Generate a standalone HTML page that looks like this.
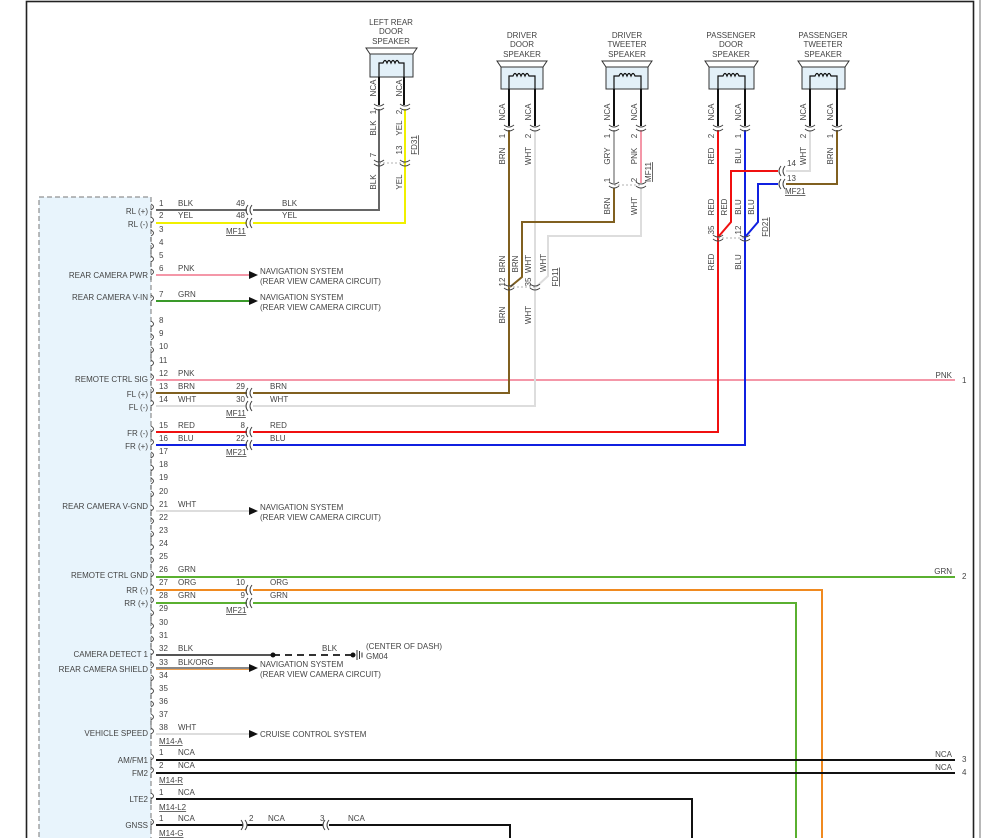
<!DOCTYPE html>
<html><head><meta charset="utf-8"><style>
html,body{margin:0;padding:0;background:#fff;}
svg{display:block;font-family:"Liberation Sans",sans-serif;}
text{font-size:8px;fill:#444;}
.u{text-decoration:underline;}
</style></head><body>
<svg width="981" height="838" viewBox="0 0 981 838" xmlns="http://www.w3.org/2000/svg">
<defs>
<path id="pa" d="M-1,-6 q5,3 0,6 M-1,1 v4" fill="none" stroke="#444" stroke-width="0.9"/>
<g id="ic" fill="none" stroke="#444" stroke-width="1"><path d="M-1,-5 q-4,5 0,10"/><path d="M3,-5 q-4,5 0,10"/></g>
<g id="icr" fill="none" stroke="#444" stroke-width="1"><path d="M-3,-5 q4,5 0,10"/><path d="M1,-5 q4,5 0,10"/></g>
<g id="vc" fill="none" stroke="#444" stroke-width="1"><path d="M-5,-3 q5,4 10,0"/><path d="M-5,1 q5,4 10,0"/></g>
</defs>

<!-- frame -->
<rect x="26.5" y="1.5" width="947" height="850" fill="none" stroke="#222" stroke-width="1.6"/>
<line x1="980" y1="0" x2="980" y2="838" stroke="#888" stroke-width="1.2"/>

<!-- module -->
<rect x="39" y="197" width="112" height="660" fill="#e8f4fc" stroke="#777" stroke-dasharray="5,3"/>
<g>
<use href="#pa" x="152" y="210"/><use href="#pa" x="152" y="223"/><use href="#pa" x="152" y="236"/><use href="#pa" x="152" y="249"/><use href="#pa" x="152" y="262"/><use href="#pa" x="152" y="275"/><use href="#pa" x="152" y="301"/><use href="#pa" x="152" y="327"/><use href="#pa" x="152" y="340"/><use href="#pa" x="152" y="353"/><use href="#pa" x="152" y="366"/><use href="#pa" x="152" y="380"/><use href="#pa" x="152" y="393"/><use href="#pa" x="152" y="406"/><use href="#pa" x="152" y="432"/><use href="#pa" x="152" y="445"/><use href="#pa" x="152" y="458"/><use href="#pa" x="152" y="471"/><use href="#pa" x="152" y="484"/><use href="#pa" x="152" y="497"/><use href="#pa" x="152" y="511"/><use href="#pa" x="152" y="524"/><use href="#pa" x="152" y="537"/><use href="#pa" x="152" y="550"/><use href="#pa" x="152" y="563"/><use href="#pa" x="152" y="577"/><use href="#pa" x="152" y="590"/><use href="#pa" x="152" y="603"/><use href="#pa" x="152" y="616"/><use href="#pa" x="152" y="629"/><use href="#pa" x="152" y="642"/><use href="#pa" x="152" y="655"/><use href="#pa" x="152" y="668"/><use href="#pa" x="152" y="681"/><use href="#pa" x="152" y="694"/><use href="#pa" x="152" y="707"/><use href="#pa" x="152" y="720"/><use href="#pa" x="152" y="734"/><use href="#pa" x="152" y="760"/><use href="#pa" x="152" y="773"/><use href="#pa" x="152" y="799"/><use href="#pa" x="152" y="825"/>
</g>

<!-- module pin labels -->
<g text-anchor="end">
<text x="148" y="214">RL (+)</text><text x="148" y="227">RL (-)</text>
<text x="148" y="278">REAR CAMERA PWR</text><text x="148" y="300">REAR CAMERA V-IN</text>
<text x="148" y="382">REMOTE CTRL SIG</text><text x="148" y="397">FL (+)</text><text x="148" y="410">FL (-)</text>
<text x="148" y="436">FR (-)</text><text x="148" y="449">FR (+)</text>
<text x="148" y="509">REAR CAMERA V-GND</text>
<text x="148" y="578">REMOTE CTRL GND</text><text x="148" y="593">RR (-)</text><text x="148" y="606">RR (+)</text>
<text x="148" y="657">CAMERA DETECT 1</text><text x="148" y="672">REAR CAMERA SHIELD</text>
<text x="148" y="736">VEHICLE SPEED</text>
<text x="148" y="763">AM/FM1</text><text x="148" y="776">FM2</text><text x="148" y="802">LTE2</text><text x="148" y="828">GNSS</text>
</g>
<!-- pin numbers -->
<g>
<text x="159" y="206">1</text><text x="159" y="218">2</text><text x="159" y="232">3</text><text x="159" y="245">4</text><text x="159" y="258">5</text><text x="159" y="271">6</text><text x="159" y="297">7</text><text x="159" y="323">8</text><text x="159" y="336">9</text><text x="159" y="349">10</text><text x="159" y="363">11</text><text x="159" y="376">12</text><text x="159" y="389">13</text><text x="159" y="402">14</text><text x="159" y="428">15</text><text x="159" y="441">16</text><text x="159" y="454">17</text><text x="159" y="467">18</text><text x="159" y="480">19</text><text x="159" y="494">20</text><text x="159" y="507">21</text><text x="159" y="520">22</text><text x="159" y="533">23</text><text x="159" y="546">24</text><text x="159" y="559">25</text><text x="159" y="572">26</text><text x="159" y="585">27</text><text x="159" y="598">28</text><text x="159" y="611">29</text><text x="159" y="625">30</text><text x="159" y="638">31</text><text x="159" y="651">32</text><text x="159" y="665">33</text><text x="159" y="678">34</text><text x="159" y="691">35</text><text x="159" y="704">36</text><text x="159" y="717">37</text><text x="159" y="730">38</text>
<text x="159" y="744" class="u">M14-A</text>
<text x="159" y="755">1</text><text x="159" y="768">2</text>
<text x="159" y="783" class="u">M14-R</text>
<text x="159" y="795">1</text>
<text x="159" y="810" class="u">M14-L2</text>
<text x="159" y="821">1</text>
<text x="159" y="836" class="u">M14-G</text>
</g>
<g>
<text x="178" y="206">BLK</text><text x="178" y="218">YEL</text><text x="178" y="271">PNK</text><text x="178" y="297">GRN</text>
<text x="178" y="376">PNK</text><text x="178" y="389">BRN</text><text x="178" y="402">WHT</text><text x="178" y="428">RED</text><text x="178" y="441">BLU</text>
<text x="178" y="507">WHT</text><text x="178" y="572">GRN</text><text x="178" y="585">ORG</text><text x="178" y="598">GRN</text>
<text x="178" y="651">BLK</text><text x="178" y="665">BLK/ORG</text><text x="178" y="730">WHT</text>
<text x="178" y="755">NCA</text><text x="178" y="768">NCA</text><text x="178" y="795">NCA</text><text x="178" y="821">NCA</text>
<text x="282" y="206">BLK</text><text x="282" y="218">YEL</text>
<text x="270" y="389">BRN</text><text x="270" y="402">WHT</text><text x="270" y="428">RED</text><text x="270" y="441">BLU</text>
<text x="270" y="585">ORG</text><text x="270" y="598">GRN</text>
<text x="322" y="651">BLK</text>
<text x="268" y="821">NCA</text><text x="348" y="821">NCA</text>
<text x="249" y="821">2</text><text x="320" y="821">3</text>
</g>
<g text-anchor="end">
<text x="245" y="206">49</text><text x="245" y="218">48</text>
<text x="245" y="389">29</text><text x="245" y="402">30</text>
<text x="245" y="428">8</text><text x="245" y="441">22</text>
<text x="245" y="585">10</text><text x="245" y="598">9</text>
<text x="952" y="378">PNK</text><text x="952" y="574">GRN</text><text x="952" y="757">NCA</text><text x="952" y="770">NCA</text>
</g>
<text x="962" y="383">1</text><text x="962" y="579">2</text><text x="962" y="762">3</text><text x="962" y="775">4</text>
<text x="226" y="234" class="u">MF11</text><text x="226" y="416" class="u">MF11</text><text x="226" y="455" class="u">MF21</text><text x="226" y="613" class="u">MF21</text>

<!-- horizontal wires -->
<g fill="none" stroke-width="2">
<polyline points="156,210 247,210" stroke="#666"/><polyline points="253,210 379,210 379,109" stroke="#666"/>
<polyline points="156,223 247,223" stroke="#f0f000"/><polyline points="253,223 405,223 405,109" stroke="#f0f000"/>
<line x1="156" y1="275" x2="250" y2="275" stroke="#f497a8"/>
<line x1="156" y1="301" x2="250" y2="301" stroke="#3a9a2a"/>
<line x1="156" y1="380" x2="955" y2="380" stroke="#f497a8"/>
<polyline points="156,393 247,393" stroke="#806020"/><polyline points="253,393 509,393 509,130" stroke="#806020"/>
<polyline points="156,406 247,406" stroke="#ddd"/><polyline points="253,406 535,406 535,130" stroke="#ddd"/>
<polyline points="156,432 247,432" stroke="#f01010"/><polyline points="253,432 718,432 718,130" stroke="#f01010"/>
<polyline points="156,445 247,445" stroke="#1020e0"/><polyline points="253,445 745,445 745,130" stroke="#1020e0"/>
<line x1="156" y1="511" x2="250" y2="511" stroke="#ddd"/>
<line x1="156" y1="577" x2="955" y2="577" stroke="#5ab030"/>
<polyline points="156,590 247,590" stroke="#f08a20"/><polyline points="253,590 822,590 822,838" stroke="#f08a20"/>
<polyline points="156,603 247,603" stroke="#5ab030"/><polyline points="253,603 796,603 796,838" stroke="#5ab030"/>
<line x1="156" y1="655" x2="273" y2="655" stroke="#555"/>
<line x1="273" y1="655" x2="355" y2="655" stroke="#333" stroke-dasharray="7,5"/>
<line x1="156" y1="668" x2="250" y2="668" stroke="#888"/><line x1="156" y1="669.5" x2="250" y2="669.5" stroke="#f0a050" stroke-width="1"/>
<line x1="156" y1="734" x2="250" y2="734" stroke="#ddd"/>
<line x1="156" y1="760" x2="955" y2="760" stroke="#111"/>
<line x1="156" y1="773" x2="955" y2="773" stroke="#111"/>
<polyline points="156,799 692,799 692,838" stroke="#111"/>
<polyline points="156,825 243,825" stroke="#111"/><polyline points="247,825 323,825" stroke="#111"/><polyline points="329,825 510,825 510,838" stroke="#111"/>
</g>
<use href="#ic" x="249" y="210"/><use href="#ic" x="249" y="223"/>
<use href="#ic" x="249" y="393"/><use href="#ic" x="249" y="406"/>
<use href="#ic" x="249" y="432"/><use href="#ic" x="249" y="445"/>
<use href="#ic" x="249" y="590"/><use href="#ic" x="249" y="603"/>
<use href="#icr" x="244" y="825"/><use href="#ic" x="326" y="825"/>
<g fill="#111">
<polygon points="249,271 258,275 249,279"/><polygon points="249,297 258,301 249,305"/><polygon points="249,507 258,511 249,515"/><polygon points="249,664 258,668 249,672"/><polygon points="249,730 258,734 249,738"/>
<circle cx="273" cy="655" r="2.5"/><circle cx="353" cy="655" r="2.5"/>
</g>
<g stroke="#333" stroke-width="1"><line x1="357" y1="650" x2="357" y2="660"/><line x1="359.5" y1="651" x2="359.5" y2="659"/><line x1="362" y1="652.5" x2="362" y2="657.5"/></g>
<text x="260" y="274">NAVIGATION SYSTEM</text><text x="260" y="284">(REAR VIEW CAMERA CIRCUIT)</text>
<text x="260" y="300">NAVIGATION SYSTEM</text><text x="260" y="310">(REAR VIEW CAMERA CIRCUIT)</text>
<text x="260" y="510">NAVIGATION SYSTEM</text><text x="260" y="520">(REAR VIEW CAMERA CIRCUIT)</text>
<text x="260" y="667">NAVIGATION SYSTEM</text><text x="260" y="677">(REAR VIEW CAMERA CIRCUIT)</text>
<text x="260" y="737">CRUISE CONTROL SYSTEM</text>
<text x="366" y="649">(CENTER OF DASH)</text><text x="366" y="659">GM04</text>

<g fill="none" stroke-width="2">
<line x1="614" y1="130" x2="614" y2="183" stroke="#aaa"/><line x1="641" y1="130" x2="641" y2="183" stroke="#f497a8"/>
<polyline points="614,188 614,222 522,222 522,277 510,287" stroke="#806020"/>
<polyline points="641,188 641,236 548,236 548,276 536,287" stroke="#ddd"/>
<polyline points="778,171 731,171 731,222 719,236" stroke="#f01010"/>
<polyline points="778,184 758,184 758,222 746,236" stroke="#1020e0"/>
<polyline points="810,130 810,171 786,171" stroke="#ddd"/>
<polyline points="837,130 837,184 786,184" stroke="#806020"/>
</g>
<g stroke="#999" stroke-width="0.8" stroke-dasharray="2,2"><line x1="379" y1="163" x2="405" y2="163"/><line x1="509" y1="287" x2="535" y2="287"/><line x1="614" y1="185" x2="641" y2="185"/><line x1="718" y1="238" x2="745" y2="238"/></g>
<use href="#vc" x="379" y="107"/><use href="#vc" x="405" y="107"/><use href="#vc" x="379" y="163"/><use href="#vc" x="405" y="163"/>
<use href="#vc" x="509" y="128"/><use href="#vc" x="535" y="128"/><use href="#vc" x="509" y="287"/><use href="#vc" x="535" y="287"/>
<use href="#vc" x="614" y="128"/><use href="#vc" x="641" y="128"/><use href="#vc" x="614" y="185"/><use href="#vc" x="641" y="185"/>
<use href="#vc" x="718" y="128"/><use href="#vc" x="745" y="128"/><use href="#vc" x="718" y="238"/><use href="#vc" x="745" y="238"/>
<use href="#vc" x="810" y="128"/><use href="#vc" x="837" y="128"/>
<use href="#ic" x="782" y="171"/><use href="#ic" x="782" y="184"/>
<text x="787" y="166">14</text><text x="787" y="181">13</text><text x="785" y="194" class="u">MF21</text>

<!-- speakers -->
<g fill="none" stroke="#111">
<polygon points="366,48 417,48 413,54 370,54" fill="#fff" stroke="#333"/>
<rect x="370" y="54" width="43" height="23" fill="#e3f0f8" stroke="#333"/>
<path d="M379,77 V63 H383 q2,-5 4,0 q2,-5 4,0 q2,-5 4,0 q2,-5 4,0 H404 V77" stroke-width="1.2"/>
<line x1="379" y1="77" x2="379" y2="105" stroke-width="2"/><line x1="404" y1="77" x2="404" y2="105" stroke-width="2"/>

<polygon points="497,61 547,61 543,67 501,67" fill="#fff" stroke="#333"/>
<rect x="501" y="67" width="42" height="22" fill="#e3f0f8" stroke="#333"/>
<path d="M509,89 V76 H513 q2,-5 4,0 q2,-5 4,0 q2,-5 4,0 q2,-5 4,0 H535 V89" stroke-width="1.2"/>
<line x1="509" y1="89" x2="509" y2="126" stroke-width="2"/><line x1="535" y1="89" x2="535" y2="126" stroke-width="2"/>

<polygon points="602,61 652,61 648,67 606,67" fill="#fff" stroke="#333"/>
<rect x="606" y="67" width="42" height="22" fill="#e3f0f8" stroke="#333"/>
<path d="M614,89 V76 H619 q2,-5 4,0 q2,-5 4,0 q2,-5 4,0 q2,-5 4,0 H641 V89" stroke-width="1.2"/>
<line x1="614" y1="89" x2="614" y2="126" stroke-width="2"/><line x1="641" y1="89" x2="641" y2="126" stroke-width="2"/>

<polygon points="705,61 758,61 754,67 709,67" fill="#fff" stroke="#333"/>
<rect x="709" y="67" width="45" height="22" fill="#e3f0f8" stroke="#333"/>
<path d="M718,89 V76 H723 q2,-5 4,0 q2,-5 4,0 q2,-5 4,0 q2,-5 4,0 H745 V89" stroke-width="1.2"/>
<line x1="718" y1="89" x2="718" y2="126" stroke-width="2"/><line x1="745" y1="89" x2="745" y2="126" stroke-width="2"/>

<polygon points="798,61 849,61 845,67 802,67" fill="#fff" stroke="#333"/>
<rect x="802" y="67" width="43" height="22" fill="#e3f0f8" stroke="#333"/>
<path d="M810,89 V76 H815 q2,-5 4,0 q2,-5 4,0 q2,-5 4,0 q2,-5 4,0 H837 V89" stroke-width="1.2"/>
<line x1="810" y1="89" x2="810" y2="126" stroke-width="2"/><line x1="837" y1="89" x2="837" y2="126" stroke-width="2"/>
</g>

<g text-anchor="middle">
<text x="391" y="25">LEFT REAR</text><text x="391" y="34">DOOR</text><text x="391" y="44">SPEAKER</text>
<text x="522" y="38">DRIVER</text><text x="522" y="47">DOOR</text><text x="522" y="57">SPEAKER</text>
<text x="627" y="38">DRIVER</text><text x="627" y="47">TWEETER</text><text x="627" y="57">SPEAKER</text>
<text x="731" y="38">PASSENGER</text><text x="731" y="47">DOOR</text><text x="731" y="57">SPEAKER</text>
<text x="823" y="38">PASSENGER</text><text x="823" y="47">TWEETER</text><text x="823" y="57">SPEAKER</text>
</g>

<g text-anchor="middle">
<text transform="rotate(-90 376 88)" x="376" y="88">NCA</text><text transform="rotate(-90 376 112)" x="376" y="112">1</text><text transform="rotate(-90 376 128)" x="376" y="128">BLK</text><text transform="rotate(-90 376 155)" x="376" y="155">7</text><text transform="rotate(-90 376 182)" x="376" y="182">BLK</text>
<text transform="rotate(-90 402 88)" x="402" y="88">NCA</text><text transform="rotate(-90 402 112)" x="402" y="112">2</text><text transform="rotate(-90 402 128)" x="402" y="128">YEL</text><text transform="rotate(-90 402 150)" x="402" y="150">13</text><text transform="rotate(-90 402 182)" x="402" y="182">YEL</text>
<text transform="rotate(-90 417 145)" x="417" y="145" class="u">FD31</text>

<text transform="rotate(-90 505 112)" x="505" y="112">NCA</text><text transform="rotate(-90 505 136)" x="505" y="136">1</text><text transform="rotate(-90 505 156)" x="505" y="156">BRN</text><text transform="rotate(-90 505 264)" x="505" y="264">BRN</text><text transform="rotate(-90 505 282)" x="505" y="282">12</text><text transform="rotate(-90 505 315)" x="505" y="315">BRN</text>
<text transform="rotate(-90 518 264)" x="518" y="264">BRN</text>
<text transform="rotate(-90 531 112)" x="531" y="112">NCA</text><text transform="rotate(-90 531 136)" x="531" y="136">2</text><text transform="rotate(-90 531 156)" x="531" y="156">WHT</text><text transform="rotate(-90 531 264)" x="531" y="264">WHT</text><text transform="rotate(-90 531 282)" x="531" y="282">35</text><text transform="rotate(-90 531 315)" x="531" y="315">WHT</text>
<text transform="rotate(-90 546 263)" x="546" y="263">WHT</text>
<text transform="rotate(-90 558 277)" x="558" y="277" class="u">FD11</text>

<text transform="rotate(-90 610 112)" x="610" y="112">NCA</text><text transform="rotate(-90 610 136)" x="610" y="136">1</text><text transform="rotate(-90 610 156)" x="610" y="156">GRY</text><text transform="rotate(-90 610 180)" x="610" y="180">1</text><text transform="rotate(-90 610 206)" x="610" y="206">BRN</text>
<text transform="rotate(-90 637 112)" x="637" y="112">NCA</text><text transform="rotate(-90 637 136)" x="637" y="136">2</text><text transform="rotate(-90 637 156)" x="637" y="156">PNK</text><text transform="rotate(-90 637 180)" x="637" y="180">2</text><text transform="rotate(-90 637 206)" x="637" y="206">WHT</text>
<text transform="rotate(-90 651 172)" x="651" y="172" class="u">MF11</text>

<text transform="rotate(-90 714 112)" x="714" y="112">NCA</text><text transform="rotate(-90 714 136)" x="714" y="136">2</text><text transform="rotate(-90 714 156)" x="714" y="156">RED</text><text transform="rotate(-90 714 207)" x="714" y="207">RED</text><text transform="rotate(-90 714 230)" x="714" y="230">35</text><text transform="rotate(-90 714 262)" x="714" y="262">RED</text>
<text transform="rotate(-90 727 207)" x="727" y="207">RED</text>
<text transform="rotate(-90 741 112)" x="741" y="112">NCA</text><text transform="rotate(-90 741 136)" x="741" y="136">1</text><text transform="rotate(-90 741 156)" x="741" y="156">BLU</text><text transform="rotate(-90 741 207)" x="741" y="207">BLU</text><text transform="rotate(-90 741 230)" x="741" y="230">12</text><text transform="rotate(-90 741 262)" x="741" y="262">BLU</text>
<text transform="rotate(-90 754 207)" x="754" y="207">BLU</text>
<text transform="rotate(-90 768 227)" x="768" y="227" class="u">FD21</text>

<text transform="rotate(-90 806 112)" x="806" y="112">NCA</text><text transform="rotate(-90 806 136)" x="806" y="136">2</text><text transform="rotate(-90 806 156)" x="806" y="156">WHT</text>
<text transform="rotate(-90 833 112)" x="833" y="112">NCA</text><text transform="rotate(-90 833 136)" x="833" y="136">1</text><text transform="rotate(-90 833 156)" x="833" y="156">BRN</text>
</g>
</svg>
</body></html>
